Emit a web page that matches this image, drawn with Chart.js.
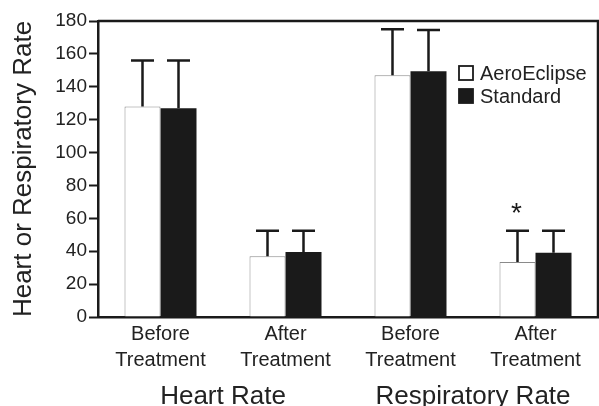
<!DOCTYPE html>
<html><head><meta charset="utf-8">
<script src="https://cdn.jsdelivr.net/npm/chart.js@4/dist/chart.umd.min.js"></script>
<style>html,body{margin:0;padding:0;background:#fff}#wrap{width:599px;height:406px}</style>
</head><body><div id="wrap"><canvas id="c" width="599" height="406"></canvas></div>
<script>
// ---- data ----
const categories = [['Before','Treatment'],['After','Treatment'],['Before','Treatment'],['After','Treatment']];
const groupLabels = ['Heart Rate','Respiratory Rate'];
const seriesNames = ['AeroEclipse','Standard'];
const aeroValues = [128, 37, 147, 33.5];
const aeroErrors = [28, 15.5, 28, 19];
const standardValues = [127, 39.5, 149.5, 39];
const standardErrors = [29, 13, 25, 13.5];
const aeroMarks = ['', '', '', '*'];
const yTitle = 'Heart or Respiratory Rate';

const FONT = "'Liberation Sans', Arial, sans-serif";
const INK = '#1a1a1a';

const decor = {
  id: 'decor',
  afterDatasetsDraw(chart) {
    const {ctx, chartArea: a, scales: {y}} = chart;
    const errs = [aeroErrors, standardErrors];
    ctx.save();
    chart.data.datasets.forEach((ds, di) => {
      const meta = chart.getDatasetMeta(di);
      meta.data.forEach((bar, i) => {
        const yTop = y.getPixelForValue(ds.data[i] + errs[di][i]);
        ctx.strokeStyle = INK; ctx.lineWidth = 2.5; ctx.lineCap = 'butt';
        ctx.beginPath();
        ctx.moveTo(bar.x, bar.y); ctx.lineTo(bar.x, yTop);
        ctx.moveTo(bar.x - 11.5, yTop); ctx.lineTo(bar.x + 11.5, yTop);
        ctx.stroke();
        if (di === 0 && aeroMarks[i]) {
          ctx.fillStyle = INK;
          ctx.font = '28px ' + FONT;
          ctx.textAlign = 'center'; ctx.textBaseline = 'middle';
          ctx.fillText(aeroMarks[i], bar.x - 1, yTop - 16);
        }
      });
    });
    // frame top & right
    ctx.strokeStyle = INK; ctx.lineWidth = 2.5;
    ctx.beginPath();
    ctx.moveTo(a.left, a.top); ctx.lineTo(a.right, a.top); ctx.lineTo(a.right, a.bottom);
    ctx.stroke();
    // legend
    const lx = a.right - 139, ly1 = a.top + 59, ly2 = a.top + 82;
    ctx.font = '20px ' + FONT;
    ctx.textAlign = 'left'; ctx.textBaseline = 'alphabetic';
    ctx.lineWidth = 1.8; ctx.strokeStyle = INK;
    ctx.fillStyle = '#fff';
    ctx.fillRect(lx, ly1 - 14, 14, 14);
    ctx.strokeRect(lx, ly1 - 14, 14, 14);
    ctx.fillStyle = INK;
    ctx.fillRect(lx - 0.9, ly2 - 14.9, 15.8, 15.8);
    ctx.fillStyle = '#222';
    ctx.fillText(seriesNames[0], lx + 21, ly1);
    ctx.fillText(seriesNames[1], lx + 21, ly2);
    ctx.restore();
  }
};

new Chart(document.getElementById('c'), {
  type: 'bar',
  data: {
    labels: categories,
    datasets: [
      { label: seriesNames[0], data: aeroValues, backgroundColor: '#ffffff', borderColor: '#8a8a8a', borderWidth: 1, categoryPercentage: 0.576, barPercentage: 1.0 },
      { label: seriesNames[1], data: standardValues, backgroundColor: INK, borderWidth: 0, categoryPercentage: 0.576, barPercentage: 1.0 }
    ]
  },
  options: {
    responsive: false,
    devicePixelRatio: 1,
    animation: false,
    layout: { padding: { top: 21, right: 1, left: 0, bottom: 0 } },
    plugins: { legend: { display: false }, tooltip: { enabled: false } },
    scales: {
      x: {
        type: 'category',
        position: 'bottom',
        weight: 0,
        grid: { display: true, drawOnChartArea: false, drawTicks: false },
        border: { display: true, width: 2.5, color: INK },
        ticks: { color: '#222', padding: 5, font: { family: FONT, size: 20, lineHeight: 1.28 }, maxRotation: 0, autoSkip: false },
        afterFit(s) { s.height = 55; }
      },
      x2: {
        type: 'category',
        position: 'bottom',
        weight: 1,
        labels: groupLabels,
        offset: true,
        grid: { display: false, drawTicks: false },
        border: { display: false },
        ticks: { color: '#222', padding: 9, font: { family: FONT, size: 26, lineHeight: 1.2 }, maxRotation: 0, autoSkip: false },
        afterFit(s) { s.height = 34; }
      },
      y: {
        min: 0, max: 180,
        ticks: { stepSize: 20, color: '#222', padding: 2, font: { family: FONT, size: 19 } },
        grid: { display: true, drawOnChartArea: false, drawTicks: true, tickLength: 9, tickWidth: 2, tickColor: INK },
        border: { display: true, width: 2.5, color: INK },
        title: { display: true, text: yTitle, color: '#222', font: { family: FONT, size: 26 }, padding: { top: 8, bottom: 0 } },
        afterFit(s) { s.width = 98; }
      }
    }
  },
  plugins: [decor]
});
</script>
</body></html>
